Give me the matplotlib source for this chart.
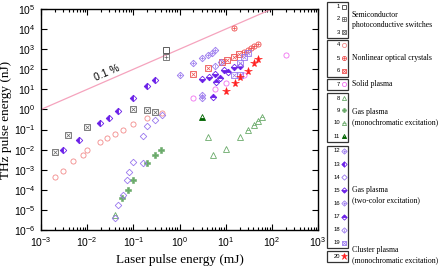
import matplotlib
matplotlib.use("Agg")
import matplotlib.pyplot as plt
from matplotlib.patches import Rectangle

# ---- data (laser pulse energy in mJ, THz pulse energy in nJ) ----
s1_x = [0.5]; s1_y = [900]
s2_x = [0.5]; s2_y = [400]
s3_x = [0.002, 0.0039, 0.01, 0.1, 0.2, 0.3]
s3_y = [0.0077, 0.054, 0.13, 1.06, 0.94, 0.76]
s4_x = [0.002, 0.003, 0.005, 0.0081, 0.01, 0.019, 0.027, 0.041, 0.06, 0.1, 0.2, 0.41]
s4_y = [4.4e-4, 8.7e-4, 2.7e-3, 5.5e-3, 9.8e-3, 0.024, 0.038, 0.06, 0.095, 0.19, 0.38, 0.68]
s5_x = [15, 24.6, 30, 35, 41, 50]
s5_y = [1.1e4, 720, 910, 1150, 1450, 1800]
s6_x = [2.0, 4.1, 8.5, 10.5, 15, 19]
s6_y = [59, 116, 230, 290, 400, 580]
s7_x = [2.0, 6.0, 10, 24.6, 200]
s7_y = [3.7, 10.5, 21, 52, 520]
s8_x = [4.1, 5.2, 10, 20]
s8_y = [0.043, 0.0055, 0.011, 0.043]
s9_x = [0.058, 0.078, 0.1, 0.2, 0.3, 0.39]
s9_y = [4e-5, 1e-4, 3.1e-4, 2.2e-3, 5.5e-3, 9.8e-3]
s10_x = [0.041, 30, 41, 50, 60]
s10_y = [5.6e-6, 0.095, 0.17, 0.27, 0.43]
s11_x = [3.0]; s11_y = [0.43]
s12_x = [1.0, 2.0, 3.0, 4.1, 5.0, 6.0]
s12_y = [52, 200, 360, 520, 650, 910]
s13_x = [0.003, 0.0067, 0.019, 0.030, 0.047, 0.1, 0.2, 0.3]
s13_y = [0.0098, 0.030, 0.21, 0.38, 0.84, 3.7, 15, 30]
s14_x = [0.041, 0.047, 0.06, 0.074, 0.082, 0.1, 0.16, 0.16, 0.2, 0.3, 0.41]
s14_y = [4e-6, 1.8e-5, 5.6e-5, 3.1e-4, 7.8e-4, 2.5e-3, 2.2e-3, 0.048, 0.15, 0.30, 0.54]
s15_x = [3.0, 4.3, 5.8, 9.1, 15, 20]
s15_y = [33, 42, 59, 93, 130, 145]
s16_x = [3.0, 3.0]; s16_y = [5.2, 3.7]
s17_x = [5.2, 6.3, 7.4, 11]
s17_y = [4.2, 23, 37, 73]
s18_x = [6.0, 7.8]; s18_y = [145, 230]
s19_x = [15, 20, 20, 24.6, 30]
s19_y = [52, 52, 200, 400, 650]
s20_x = [10, 16, 20, 30, 41, 50]
s20_y = [8.3, 21, 42, 83, 200, 320]

line_x = [1e-3, 1e3]
efficiency = 0.001  # 0.1 %

group_labels = [
    ("Semiconductor\nphotoconductive switches", 20),
    ("Nonlinear optical crystals", 58),
    ("Solid plasma", 84),
    ("Gas plasma\n(monochromatic excitation)", 117),
    ("Gas plasma\n(two-color excitation)", 195),
    ("Cluster plasma\n(monochromatic excitation)", 255),
]

gray = "#666666"
salmon = "#f28a8a"
red = "#ee5050"
magenta = "#f070f0"
green = "#6aaa6a"
dgreen = "#006400"
dpurple = "#6a1fe8"
lpurple = "#9a78ee"
star_red = "#ff2020"

# style per series: (base marker, color, fillstyle, overlay marker)
styles = {
    1: ("s", "#444444", "none", None),
    2: ("s", gray, "none", "+"),
    3: ("s", gray, "none", "x"),
    4: ("o", salmon, "none", None),
    5: ("o", red, "none", "+"),
    6: ("s", red, "none", "x"),
    7: ("o", magenta, "none", None),
    8: ("^", green, "none", None),
    9: ("P", green, "full", None),
    10: ("^", green, "none", "_"),
    11: ("^", dgreen, "bottom", None),
    12: ("D", lpurple, "none", "+"),
    13: ("D", dpurple, "left", None),
    14: ("D", lpurple, "none", None),
    15: ("D", dpurple, "bottom", None),
    16: ("D", lpurple, "none", "+"),
    17: ("D", dpurple, "top", None),
    18: ("D", lpurple, "none", "|"),
    19: ("s", lpurple, "none", "x"),
    20: ("*", star_red, "full", None),
}

series = {
    1: (s1_x, s1_y), 2: (s2_x, s2_y), 3: (s3_x, s3_y), 4: (s4_x, s4_y),
    5: (s5_x, s5_y), 6: (s6_x, s6_y), 7: (s7_x, s7_y), 8: (s8_x, s8_y),
    9: (s9_x, s9_y), 10: (s10_x, s10_y), 11: (s11_x, s11_y), 12: (s12_x, s12_y),
    13: (s13_x, s13_y), 14: (s14_x, s14_y), 15: (s15_x, s15_y), 16: (s16_x, s16_y),
    17: (s17_x, s17_y), 18: (s18_x, s18_y), 19: (s19_x, s19_y), 20: (s20_x, s20_y),
}


def draw_marker(ax, x, y, num, ms=3.7):
    m, c, fs, over = styles[num]
    if m == "*":
        ax.plot(x, y, ls="none", marker=m, ms=ms + 2.0, color=c, mec=c, mew=0.4)
        return
    if m == "D":
        ms = ms * 0.9
    if fs == "none":
        ax.plot(x, y, ls="none", marker=m, ms=ms, mfc="none", mec=c, mew=0.6)
    elif fs == "full":
        ax.plot(x, y, ls="none", marker=m, ms=ms, mfc=c, mec=c, mew=0.4)
    else:
        ax.plot(x, y, ls="none", marker=m, ms=ms, fillstyle=fs, mfc=c,
                mfcalt="white", mec=c, mew=0.6)
    if over is not None:
        ax.plot(x, y, ls="none", marker=over, ms=ms * 0.8, mec=c, mew=0.5)


fig = plt.figure(figsize=(4.45, 2.69), dpi=100)
ax = fig.add_axes([41 / 445, 1 - 230 / 269, 277 / 445, 221 / 269])

ax.plot(line_x, [v * 1e6 * efficiency for v in line_x], color="#f5a3bd", lw=0.9)
for n in range(1, 21):
    draw_marker(ax, series[n][0], series[n][1], n)

ax.text(0.027, 66, "0.1 %", rotation=23.6, ha="center", va="center",
        fontsize=7.5, family="Liberation Sans")

ax.set_xscale("log")
ax.set_yscale("log")
ax.set_xlim(1e-3, 1e3)
ax.set_ylim(1e-6, 1e5)
ax.set_xticks([10.0 ** k for k in range(-3, 4)])
ax.set_yticks([10.0 ** k for k in range(-6, 6)])
ax.tick_params(which="both", direction="in", top=True, right=True, width=0.8)
ax.tick_params(which="major", length=4, labelsize=7.5, pad=4)
ax.tick_params(which="minor", length=2)
for lab in ax.get_xticklabels() + ax.get_yticklabels():
    lab.set_family("Liberation Sans")
for sp in ax.spines.values():
    sp.set_linewidth(1.0)

ax.set_xlabel("Laser pulse energy (mJ)", family="Liberation Serif", fontsize=9.5, labelpad=3)
ax.set_ylabel("THz pulse energy (nJ)", family="Liberation Serif", fontsize=9.5, labelpad=1)

# ---- legend panel drawn in pixel coordinates ----
lax = fig.add_axes([0, 0, 1, 1])
lax.set_xlim(0, 445)
lax.set_ylim(269, 0)
lax.axis("off")

row_y = {1: 7, 2: 19, 3: 32, 4: 45, 5: 58, 6: 71, 7: 84,
         8: 98, 9: 110, 10: 123, 11: 136}
for i, n in enumerate(range(12, 20)):
    row_y[n] = 151 + i * 13.1
row_y[20] = 256

boxes = [(1, 3), (4, 6), (7, 7), (8, 11), (12, 19), (20, 20)]
for a, b in boxes:
    top = row_y[a] - 5.5
    bot = row_y[b] + 5.5
    lax.add_patch(Rectangle((327, top), 21, bot - top, fill=False, lw=0.9, ec="#333333"))

for n in range(1, 21):
    lax.text(340, row_y[n], str(n), ha="right", va="center", fontsize=4.2,
             family="Liberation Sans")
    draw_marker(lax, [343.5], [row_y[n]], n, ms=3.0)

for txt, yy in group_labels:
    lax.text(352, yy, txt, ha="left", va="center", fontsize=5.6,
             family="Liberation Serif", linespacing=1.35)

fig.savefig("out.png", dpi=100)
